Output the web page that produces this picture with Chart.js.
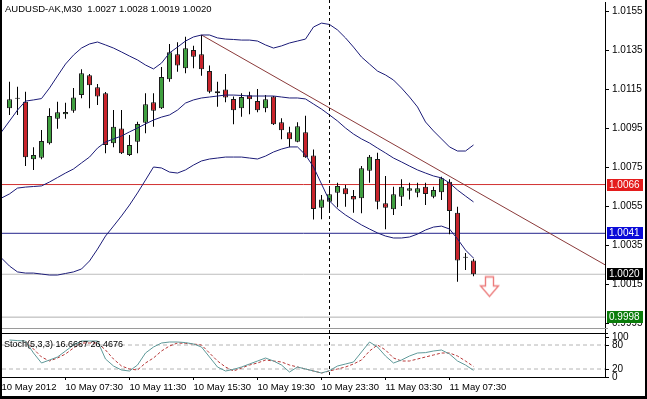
<!DOCTYPE html>
<html>
<head>
<meta charset="utf-8">
<script src="https://cdn.jsdelivr.net/npm/chart.js@4.4.1/dist/chart.umd.min.js"></script>
<style>
html, body { margin: 0; padding: 0; background: #fff; overflow: hidden; }
</style>
</head>
<body>
<canvas id="myChart" width="647" height="399"></canvas>
<script>
const ctx = document.getElementById('myChart');

// bar number k = 30 minute bars counted from 10 May 03:30 (k = 0)
const firstCandle = 1;
const opens  = [1.01051,1.01100,1.01085,1.00790,1.00798,1.00872,1.00998,1.01020,1.01039,1.01119,
                1.01220,1.01159,1.01128,1.00872,1.00948,1.00812,1.00880,1.00977,1.01082,1.01051,
                1.01200,1.01328,1.01256,1.01350,1.01328,1.01242,1.01128,1.01148,1.01099,1.01051,
                1.01118,1.01088,1.01051,1.01111,1.00979,1.00928,1.00880,1.00928,1.00809,1.00541,
                1.00572,1.00618,1.00641,1.00601,1.00590,1.00731,1.00791,1.00564,1.00533,1.00598,
                1.00628,1.00618,1.00649,1.00598,1.00620,1.00675,1.00516,1.00285,1.00270];
const highs  = [1.01187,1.01162,1.01136,1.00851,1.00940,1.01051,1.01085,1.01080,1.01155,1.01251,
                1.01227,1.01176,1.01135,1.01042,1.01042,1.00914,1.00982,1.01128,1.01128,1.01263,
                1.01381,1.01390,1.01418,1.01372,1.01427,1.01270,1.01187,1.01227,1.01111,1.01128,
                1.01136,1.01150,1.01119,1.01114,1.01000,1.00957,1.00979,1.01013,1.00840,1.00606,
                1.00649,1.00669,1.00658,1.00632,1.00755,1.00812,1.00823,1.00704,1.00649,1.00687,
                1.00669,1.00669,1.00669,1.00649,1.00700,1.00687,1.00546,1.00309,1.00280];
const lows   = [1.01017,1.01017,1.00755,1.00735,1.00790,1.00865,1.00946,1.00998,1.01028,1.01102,
                1.01051,1.01068,1.00820,1.00851,1.00817,1.00806,1.00820,1.00923,1.00957,1.01047,
                1.01187,1.01239,1.01231,1.01256,1.01218,1.01128,1.01059,1.01082,1.00969,1.01008,
                1.01020,1.01031,1.01031,1.00965,1.00892,1.00851,1.00877,1.00798,1.00481,1.00482,
                1.00521,1.00543,1.00546,1.00516,1.00513,1.00669,1.00533,1.00431,1.00504,1.00550,
                1.00584,1.00595,1.00555,1.00590,1.00581,1.00405,1.00162,1.00222,1.00190];
const closes = [1.01097,1.01102,1.00800,1.00812,1.00883,1.01012,1.01031,1.01032,1.01107,1.01231,
                1.01169,1.01111,1.00863,1.00957,1.00820,1.00863,1.00971,1.01072,1.01039,1.01212,
                1.01338,1.01270,1.01359,1.01316,1.01251,1.01136,1.01138,1.01107,1.01041,1.01109,
                1.01097,1.01041,1.01097,1.00969,1.00938,1.00892,1.00959,1.00800,1.00535,1.00584,
                1.00610,1.00653,1.00610,1.00584,1.00743,1.00803,1.00572,1.00541,1.00610,1.00649,
                1.00641,1.00641,1.00612,1.00632,1.00692,1.00524,1.00270,1.00287,1.00200];

// Bollinger bands, one value per bar from k = 0
const upperBand  = [1.00930,1.00986,1.01042,1.01088,1.01094,1.01101,1.01155,1.01217,1.01278,1.01324,
                    1.01360,1.01381,1.01391,1.01376,1.01360,1.01340,1.01319,1.01299,1.01273,1.01253,
                    1.01283,1.01335,1.01365,1.01396,1.01417,1.01427,1.01427,1.01412,1.01406,1.01404,
                    1.01401,1.01401,1.01396,1.01376,1.01360,1.01371,1.01386,1.01396,1.01406,1.01468,
                    1.01488,1.01481,1.01453,1.01412,1.01365,1.01314,1.01278,1.01242,1.01222,1.01196,
                    1.01155,1.01109,1.01058,1.00981,1.00935,1.00894,1.00853,1.00832,1.00832,1.00863];
const middleBand = [1.00591,1.00612,1.00642,1.00647,1.00650,1.00653,1.00673,1.00696,1.00719,1.00740,
                    1.00771,1.00801,1.00847,1.00878,1.00894,1.00909,1.00930,1.00950,1.00971,1.00991,
                    1.01006,1.01017,1.01042,1.01078,1.01094,1.01104,1.01109,1.01114,1.01119,1.01119,
                    1.01117,1.01114,1.01114,1.01114,1.01114,1.01109,1.01104,1.01104,1.01099,1.01073,
                    1.01047,1.01017,1.00986,1.00950,1.00919,1.00894,1.00873,1.00847,1.00822,1.00796,
                    1.00776,1.00755,1.00735,1.00719,1.00704,1.00694,1.00668,1.00632,1.00601,1.00571];
const lowerBand  = [1.00283,1.00242,1.00212,1.00206,1.00206,1.00201,1.00196,1.00196,1.00204,1.00212,
                    1.00227,1.00268,1.00329,1.00396,1.00447,1.00499,1.00555,1.00617,1.00683,1.00750,
                    1.00745,1.00724,1.00719,1.00735,1.00760,1.00781,1.00791,1.00796,1.00801,1.00801,
                    1.00801,1.00796,1.00791,1.00806,1.00827,1.00842,1.00853,1.00853,1.00812,1.00750,
                    1.00663,1.00576,1.00535,1.00504,1.00478,1.00453,1.00432,1.00412,1.00396,1.00386,
                    1.00386,1.00391,1.00406,1.00427,1.00442,1.00447,1.00432,1.00381,1.00324,1.00283];

// Stochastic (5,3,3), one value per bar from k = 0
const stochMain   = [null,92.5,91,90,60,35,42.5,50,65,80,
                     90,90,90,45,27.5,17.5,15,30,60,75,
                     85,87.5,87.5,86,82.5,75,50,25,15,19,
                     25,32.5,40,47.5,40,30,12.5,25,20,15,
                     10,16,27.5,32.5,37.5,62.5,87.5,75,52.5,35,
                     42.5,52.5,60,61,65,67.5,57.5,40,30,16.6667];
const stochSignal = [null,null,null,90,70,50,40,47.5,57.5,72.5,
                     85,85,85,67.5,45,27.5,20,17.5,35,47.5,
                     65,77.5,85,84,82.5,80,60,40,25,15,
                     22.5,30,35,42.5,40,37.5,30,25,20,15,
                     10,15,20,25,32.5,42.5,65,80,67.5,47.5,
                     40,40,45,50,55,60,60,52.5,40,26.4676];

const timeTicks  = [0, 8, 16, 24, 32, 40, 48, 56];
const timeLabels = ['10 May 2012','10 May 07:30','10 May 11:30','10 May 15:30',
                    '10 May 19:30','10 May 23:30','11 May 03:30','11 May 07:30'];
const priceTicks = [0.9995, 1.0015, 1.0035, 1.0055, 1.0075, 1.0095, 1.0115, 1.0135, 1.0155];
const stochTicks = [0, 20, 80, 100];
const stochLevels = [20, 80];

const trendBars   = [25, 75.5];
const trendPrices = [1.01427, 1.00247];
const hLinePrices = [1.0066, 1.0041, 1.0020, 0.9998];
const hLineColors = ['#d23030', '#24248c', '#bdbdbd', '#b0b0b0'];
const tagColors   = ['#e41c1c', '#0a0ad8', '#000000', '#0b7d0b'];
const dayBreakBar = 41;
const arrowBar = 61, arrowPrice = 1.00135;

const titleText = 'AUDUSD-AK,M30  1.0027 1.0028 1.0019 1.0020';
const stochText = 'Stoch(5,3,3) 16.6667 26.4676';

const xMin = 0.0625, xMax = 75.4375;

Chart.defaults.font.family = 'Liberation Sans';
Chart.defaults.font.size = 10;
Chart.defaults.color = '#000';

const bull = opens.map((o, i) => closes[i] >= o);
const bodies = opens.map((o, i) => ({x: i + firstCandle, y: [o, closes[i]]}));
const wicks = opens.map((o, i) => ({x: i + firstCandle, y: [lows[i], highs[i]]}));

function series(values) {
    return values.map((v, k) => ({x: k, y: v})).filter(p => p.y !== null);
}
function flat(v) {
    return [{x: xMin, y: v}, {x: xMax, y: v}];
}
function lineSet(data, color, axis, order, dash) {
    return {type: 'line', data: data, yAxisID: axis, borderColor: color, borderWidth: 1,
            borderDash: dash || [], pointRadius: 0, fill: false, tension: 0, order: order};
}

// outlined sell arrow used as point style
const arrow = document.createElement('canvas');
arrow.width = 21; arrow.height = 23;
(function () {
    const a = arrow.getContext('2d');
    a.beginPath();
    a.moveTo(6.5, 1.5); a.lineTo(14.5, 1.5); a.lineTo(14.5, 10.5); a.lineTo(19.5, 10.5);
    a.lineTo(10.5, 21); a.lineTo(1.5, 10.5); a.lineTo(6.5, 10.5); a.closePath();
    a.fillStyle = '#fff'; a.fill();
    a.strokeStyle = '#ec7c7c'; a.lineWidth = 1.4; a.stroke();
})();

const datasets = [
    {type: 'scatter', data: [{x: arrowBar, y: arrowPrice}], yAxisID: 'y', pointStyle: arrow, pointRadius: 10, order: 0},
    lineSet(series(stochMain), '#5f9a9a', 'y2', 0),
    lineSet(series(stochSignal), '#b83a3a', 'y2', 0, [3, 2]),
    lineSet(series(upperBand), '#1c1c78', 'y', 1),
    lineSet(series(middleBand), '#1c1c78', 'y', 1),
    lineSet(series(lowerBand), '#1c1c78', 'y', 1),
    lineSet(trendBars.map((b, i) => ({x: b, y: trendPrices[i]})), '#8b3a3a', 'y', 1),
    {type: 'bar', data: bodies, yAxisID: 'y', grouped: false, barPercentage: 0.625, categoryPercentage: 1,
     backgroundColor: bull.map(b => b ? '#3f9f3f' : '#c8232b'), borderColor: '#1e1e1e', borderWidth: 1,
     borderSkipped: false, minBarLength: 1, order: 2},
    {type: 'bar', data: wicks, yAxisID: 'y', grouped: false, barPercentage: 0.125, categoryPercentage: 1,
     backgroundColor: '#000', borderWidth: 0, order: 3}
];
hLinePrices.forEach((p, i) => datasets.push(lineSet(flat(p), hLineColors[i], 'y', 4)));
stochLevels.forEach(v => datasets.push(lineSet(flat(v), '#b4b4b4', 'y2', 4, [4, 3])));

const overlay = {
    id: 'overlay',
    beforeDraw(chart) {
        const c = chart.ctx;
        c.save();
        c.fillStyle = '#fff';
        c.fillRect(0, 0, chart.width, chart.height);
        c.restore();
    },
    afterDraw(chart) {
        const c = chart.ctx, a = chart.chartArea;
        const x = chart.scales.x, y = chart.scales.y;
        c.save();
        // pane separator
        c.fillStyle = '#9a9a9a';
        c.fillRect(a.left, y.bottom - 3, a.right - a.left + 3, 1);
        c.fillStyle = '#000';
        c.fillRect(a.left, y.bottom + 2, a.right - a.left + 3, 1);
        // day break
        const dx = x.getPixelForValue(dayBreakBar);
        c.strokeStyle = '#000';
        c.lineWidth = 1;
        c.setLineDash([3, 3]);
        c.beginPath();
        c.moveTo(dx, 0);
        c.lineTo(dx, a.bottom);
        c.stroke();
        c.setLineDash([]);
        // price tags
        c.font = '10px Liberation Sans';
        c.textBaseline = 'middle';
        hLinePrices.forEach((p, i) => {
            const py = Math.round(y.getPixelForValue(p));
            c.fillStyle = tagColors[i];
            c.fillRect(a.right + 2, py - 6, 36, 12);
            c.fillStyle = '#fff';
            c.fillText(p.toFixed(4), a.right + 4, py + 0.5);
        });
        // texts
        c.fillStyle = '#000';
        c.font = '9.5px Liberation Sans';
        c.fillText(titleText, 5, 9.5);
        c.font = '9px Liberation Sans';
        c.fillText(stochText, 4, chart.scales.y2.getPixelForValue(80));
        // window frame
        c.fillStyle = '#000';
        c.fillRect(0, 0, 2, chart.height);
        c.fillRect(chart.width - 2, 0, 2, chart.height);
        c.fillRect(0, chart.height - 3, chart.width, 3);
        c.restore();
    }
};

const tickGrid = {drawOnChartArea: false, drawTicks: true, tickLength: 4, color: '#000'};

const chart = new Chart(ctx, {
    type: 'bar',
    data: {datasets: datasets},
    options: {
        responsive: false,
        animation: false,
        events: [],
        layout: {autoPadding: false, padding: {left: 2, top: 2, right: 0, bottom: 0}},
        plugins: {legend: {display: false}, tooltip: {enabled: false}},
        scales: {
            x: {
                type: 'linear', min: xMin, max: xMax, offset: false,
                grid: {drawOnChartArea: false, drawTicks: true, tickLength: 3, color: '#000', offset: false},
                border: {display: true, color: '#000'},
                ticks: {align: 'start', maxRotation: 0, autoSkip: false, padding: 2, font: {size: 9.5},
                        callback: v => timeLabels[timeTicks.indexOf(v)]},
                afterBuildTicks: s => { s.ticks = timeTicks.map(v => ({value: v})); },
                afterFit: s => { s.height = 22; s.paddingLeft = 0; s.paddingRight = 0; }
            },
            y: {
                type: 'linear', position: 'right', stack: 'panes', stackWeight: 329,
                min: 0.99909, max: 1.015962, beginAtZero: false,
                grid: tickGrid,
                border: {display: true, color: '#000'},
                ticks: {padding: 3, autoSkip: false, callback: v => v.toFixed(4)},
                afterBuildTicks: s => { s.ticks = priceTicks.map(v => ({value: v})); },
                afterFit: s => { s.width = 42; s.paddingTop = 0; s.paddingBottom = 0; }
            },
            y2: {
                type: 'linear', position: 'right', stack: 'panes', stackWeight: 46,
                min: 0, max: 115,
                grid: tickGrid,
                border: {display: true, color: '#000'},
                ticks: {padding: 3, autoSkip: false, callback: v => String(v)},
                afterBuildTicks: s => { s.ticks = stochTicks.map(v => ({value: v})); },
                afterFit: s => { s.width = 42; s.paddingTop = 0; s.paddingBottom = 0; }
            }
        }
    },
    plugins: [overlay]
});
</script>
</body>
</html>
